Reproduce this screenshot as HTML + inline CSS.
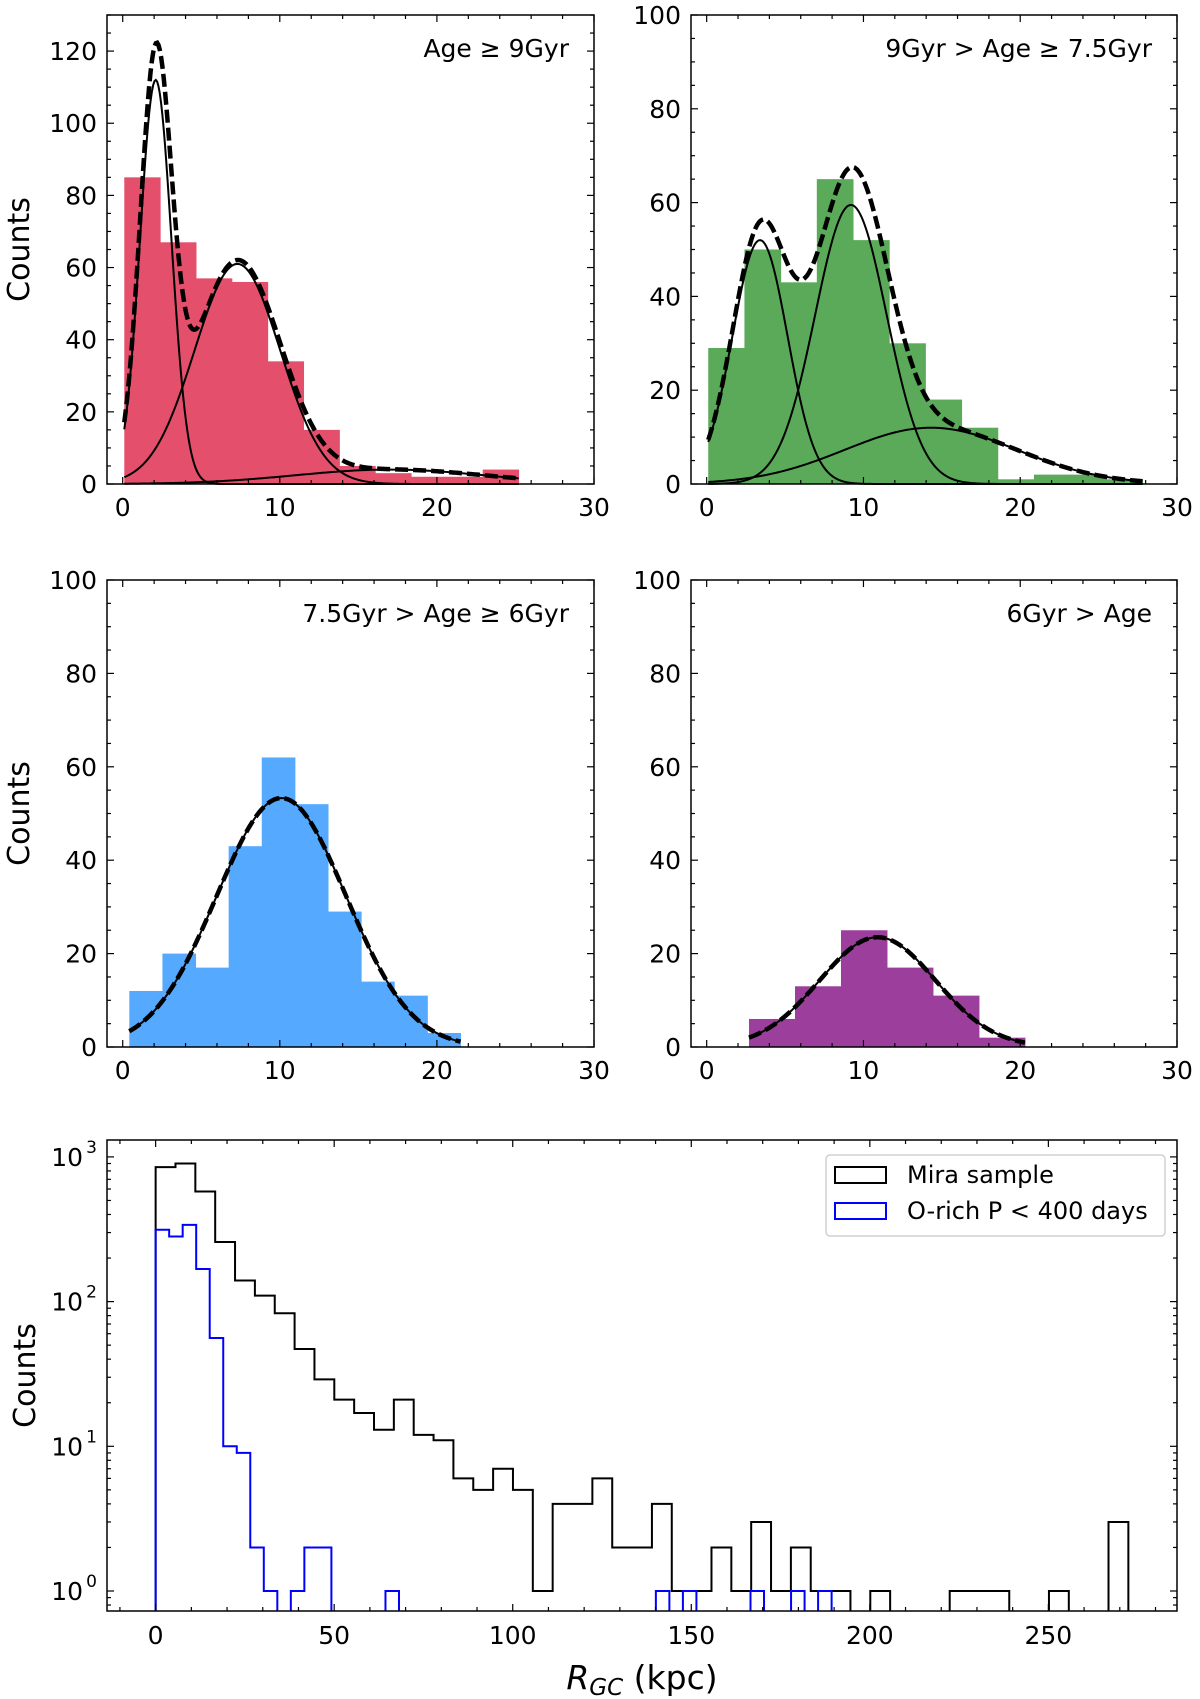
<!DOCTYPE html>
<html><head><meta charset="utf-8"><style>
html,body{margin:0;padding:0;background:#fff;}
svg{display:block;font-family:"DejaVu Sans","Liberation Sans",sans-serif;}
</style></head><body>
<svg id="fig" width="1200" height="1699" viewBox="0 0 1200 1699" xmlns="http://www.w3.org/2000/svg"></svg>
<script>
// ---- Data ----
const tlCounts=[85,67,57,56,34,15,5,3,2,2,4];
const tlRange=[0.1,25.2];
const tlGauss=[[112,2.1,1.0],[61,7.3,2.73],[4,17,6]];
const trCounts=[29,50,43,65,52,30,18,12,1,2,2,1];
const trRange=[0.1,27.8];
const trGauss=[[52,3.4,1.76],[59.5,9.2,2.28],[12,14.3,5.5]];
const mlCounts=[12,20,17,43,62,52,29,14,11,3];
const mlRange=[0.42,21.5];
const mlGauss=[[53.3,10.1,4.12]];
const mrCounts=[6,13,25,17,11,2];
const mrRange=[2.7,20.3];
const mrGauss=[[23.5,10.9,3.7]];
const miraCounts=[850,900,577,258,140,110,83,47,29,21,17,13,21,12,11,6,5,7,5,1,4,4,6,2,2,4,1,1,2,1,3,1,2,1,1,0,1,0,0,0,1,1,1,0,0,1,0,0,3];
const miraRange=[0,272.4];
const orichCounts=[314,282,339,168,56,10,9,2,1,0,1,2,2,0,0,0,0,1,0,0,0,0,0,0,0,0,0,0,0,0,0,0,0,0,0,0,0,1,0,1,0,0,0,0,1,0,0,1,0,1];
const orichRange=[0,189.3];
const linTicksX=[0,10,20,30];
const logTicksX=[0,50,100,150,200,250];

const NS="http://www.w3.org/2000/svg";
const svg=document.getElementById('fig');
function mk(tag,attrs,parent){const e=document.createElementNS(NS,tag);for(const k in attrs)e.setAttribute(k,attrs[k]);(parent||svg).appendChild(e);return e;}
function txt(s,x,y,anchor,size,parent){const t=mk('text',{x:x,y:y,'text-anchor':anchor,'font-size':size,fill:'#000'},parent);t.textContent=s;return t;}

function panel(name,box,xlim,ylim,counts,range,gauss,color,yMajor,yMinorStep,label,showYLabel){
  const g=mk('g',{});
  
  
  const [L,R,T,B]=box;
  const sx=v=>L+(v-xlim[0])/(xlim[1]-xlim[0])*(R-L);
  const sy=v=>B-(v-ylim[0])/(ylim[1]-ylim[0])*(B-T);
  const w=(range[1]-range[0])/counts.length;
  counts.forEach((c,i)=>{
    const x0=sx(range[0]+i*w),x1=sx(range[0]+(i+1)*w);
    const r=mk('rect',{x:x0,y:sy(c),width:x1-x0+0.5,height:B-sy(c),fill:color},g);
    
    
  });
  const N=300;
  function curve(fn,attrs,nm){
    let d='';for(let i=0;i<=N;i++){const x=range[0]+(range[1]-range[0])*i/N;d+=(i?'L':'M')+sx(x).toFixed(2)+','+sy(fn(x)).toFixed(2);}
    const p=mk('path',Object.assign({d:d,fill:'none',stroke:'#000'},attrs),g);
    
    
  }
  const gf=(a,m,s)=>x=>a*Math.exp(-(x-m)*(x-m)/(2*s*s));
  gauss.forEach(q=>curve(gf(q[0],q[1],q[2]),{'stroke-width':2},'gaussian-component'));
  curve(x=>gauss.reduce((t,q)=>t+gf(q[0],q[1],q[2])(x),0),{'stroke-width':4.5,'stroke-dasharray':'13,5'},'total-fit-curve');
  const f=mk('rect',{x:L,y:T,width:R-L,height:B-T,fill:'none',stroke:'#000','stroke-width':1.5},g);
  
  
  for(let v=0;v<=xlim[1]+1e-6;v+=2){const X=sx(v);const maj=v%10===0;const l=maj?7:4;
    mk('line',{x1:X,y1:B,x2:X,y2:B-l,stroke:'#000','stroke-width':1.2},g);
    mk('line',{x1:X,y1:T,x2:X,y2:T+l,stroke:'#000','stroke-width':1.2},g);}
  linTicksX.forEach(v=>{const t=txt(String(v),sx(v),B+32,'middle',25,g);});
  for(let v=0;v<=ylim[1]+1e-6;v+=yMinorStep){const Y=sy(v);const maj=v%yMajor===0;const l=maj?7:4;
    mk('line',{x1:L,y1:Y,x2:L+l,y2:Y,stroke:'#000','stroke-width':1.2},g);
    mk('line',{x1:R,y1:Y,x2:R-l,y2:Y,stroke:'#000','stroke-width':1.2},g);
    if(maj){const t=txt(String(v),L-10,Y+9,'end',25,g);}}
  const a=txt(label,R-25,T+42,'end',25,g);
  if(showYLabel){const yl=txt('Counts',0,0,'middle',30,g);yl.setAttribute('transform','translate(29,'+((T+B)/2)+') rotate(-90)');}
}

panel('panel-age-ge-9',[107,594,15,484],[-1,30],[0,130],tlCounts,tlRange,tlGauss,'#e4506c',20,5,'Age ≥ 9Gyr',true);
panel('panel-age-9-7.5',[691,1177,15,484],[-1,30],[0,100],trCounts,trRange,trGauss,'#5aaa5a',20,5,'9Gyr > Age ≥ 7.5Gyr',false);
panel('panel-age-7.5-6',[107,594,580,1047],[-1,30],[0,100],mlCounts,mlRange,mlGauss,'#55aaff',20,5,'7.5Gyr > Age ≥ 6Gyr',true);
panel('panel-age-lt-6',[691,1177,580,1047],[-1,30],[0,100],mrCounts,mrRange,mrGauss,'#9c3f9c',20,5,'6Gyr > Age',false);

(function(){
  const g=mk('g',{});
  
  
  const L=107,R=1177,T=1140,B=1611;
  const xlim=[-13.62,286.02];
  const sx=v=>L+(v-xlim[0])/(xlim[1]-xlim[0])*(R-L);
  const y0=1591,dec=144.7;
  const sy=v=>v>0?y0-Math.log10(v)*dec:B+20;
  const cp=mk('clipPath',{id:'bclip'},g);mk('rect',{x:L,y:T,width:R-L,height:B-T},cp);
  const gg=mk('g',{'clip-path':'url(#bclip)'},g);
  const drawStep=(counts,range,color,nm)=>{
    const w=(range[1]-range[0])/counts.length;
    let d='M'+sx(range[0])+','+(B+2);
    counts.forEach((c,i)=>{const x0=sx(range[0]+i*w),x1=sx(range[0]+(i+1)*w);const Y=Math.min(sy(c),B+2);d+='L'+x0+','+Y+'L'+x1+','+Y;});
    d+='L'+sx(range[1])+','+(B+2);
    const p=mk('path',{d:d,fill:'none',stroke:color,'stroke-width':2},gg);
    
    
  };
  drawStep(miraCounts,miraRange,'#000','mira-sample-hist');
  drawStep(orichCounts,orichRange,'#0000ff','orich-hist');
  const f=mk('rect',{x:L,y:T,width:R-L,height:B-T,fill:'none',stroke:'#000','stroke-width':1.5},g);
  
  
  for(let v=-10;v<=280;v+=10){const X=sx(v);const l=v%50===0?7:4;
    mk('line',{x1:X,y1:B,x2:X,y2:B-l,stroke:'#000','stroke-width':1.2},g);
    mk('line',{x1:X,y1:T,x2:X,y2:T+l,stroke:'#000','stroke-width':1.2},g);}
  logTicksX.forEach(v=>{const t=txt(String(v),sx(v),B+33,'middle',25,g);});
  for(let e=-1;e<=3;e++){for(let m=1;m<=9;m++){const v=m*Math.pow(10,e);const Y=sy(v);if(Y<T||Y>B)continue;const l=m===1?7:4;
    mk('line',{x1:L,y1:Y,x2:L+l,y2:Y,stroke:'#000','stroke-width':1.2},g);
    mk('line',{x1:R,y1:Y,x2:R-l,y2:Y,stroke:'#000','stroke-width':1.2},g);
    if(m===1&&e>=0){const t=mk('text',{x:L-24,y:Y+9,'text-anchor':'end','font-size':25},g);t.textContent='10';
      
      const s=mk('text',{x:L-10,y:Y-4,'text-anchor':'end','font-size':17},g);s.textContent=String(e);}}}
  const yl=txt('Counts',0,0,'middle',30,g);yl.setAttribute('transform','translate(35,'+((T+B)/2)+') rotate(-90)');
  
  const xl=mk('text',{x:642,y:1689,'text-anchor':'middle','font-size':33},g);
  
  xl.innerHTML='<tspan font-style="italic">R</tspan><tspan font-style="italic" font-size="23" dy="6">GC</tspan><tspan dy="-6"> (kpc)</tspan>';
  const lg=mk('g',{},g);
  
  
  mk('rect',{x:826,y:1155,width:339,height:81,rx:4,fill:'#fff',stroke:'#d0d0d0','stroke-width':1.5},lg);
  mk('rect',{x:835,y:1167,width:51,height:16,fill:'none',stroke:'#000','stroke-width':2},lg);
  mk('rect',{x:835,y:1203,width:51,height:16,fill:'none',stroke:'#0000ff','stroke-width':2},lg);
  const t1=txt('Mira sample',907,1183,'start',24,lg);
  const t2=txt('O-rich P < 400 days',907,1219,'start',24,lg);
})();
</script>
</body></html>
